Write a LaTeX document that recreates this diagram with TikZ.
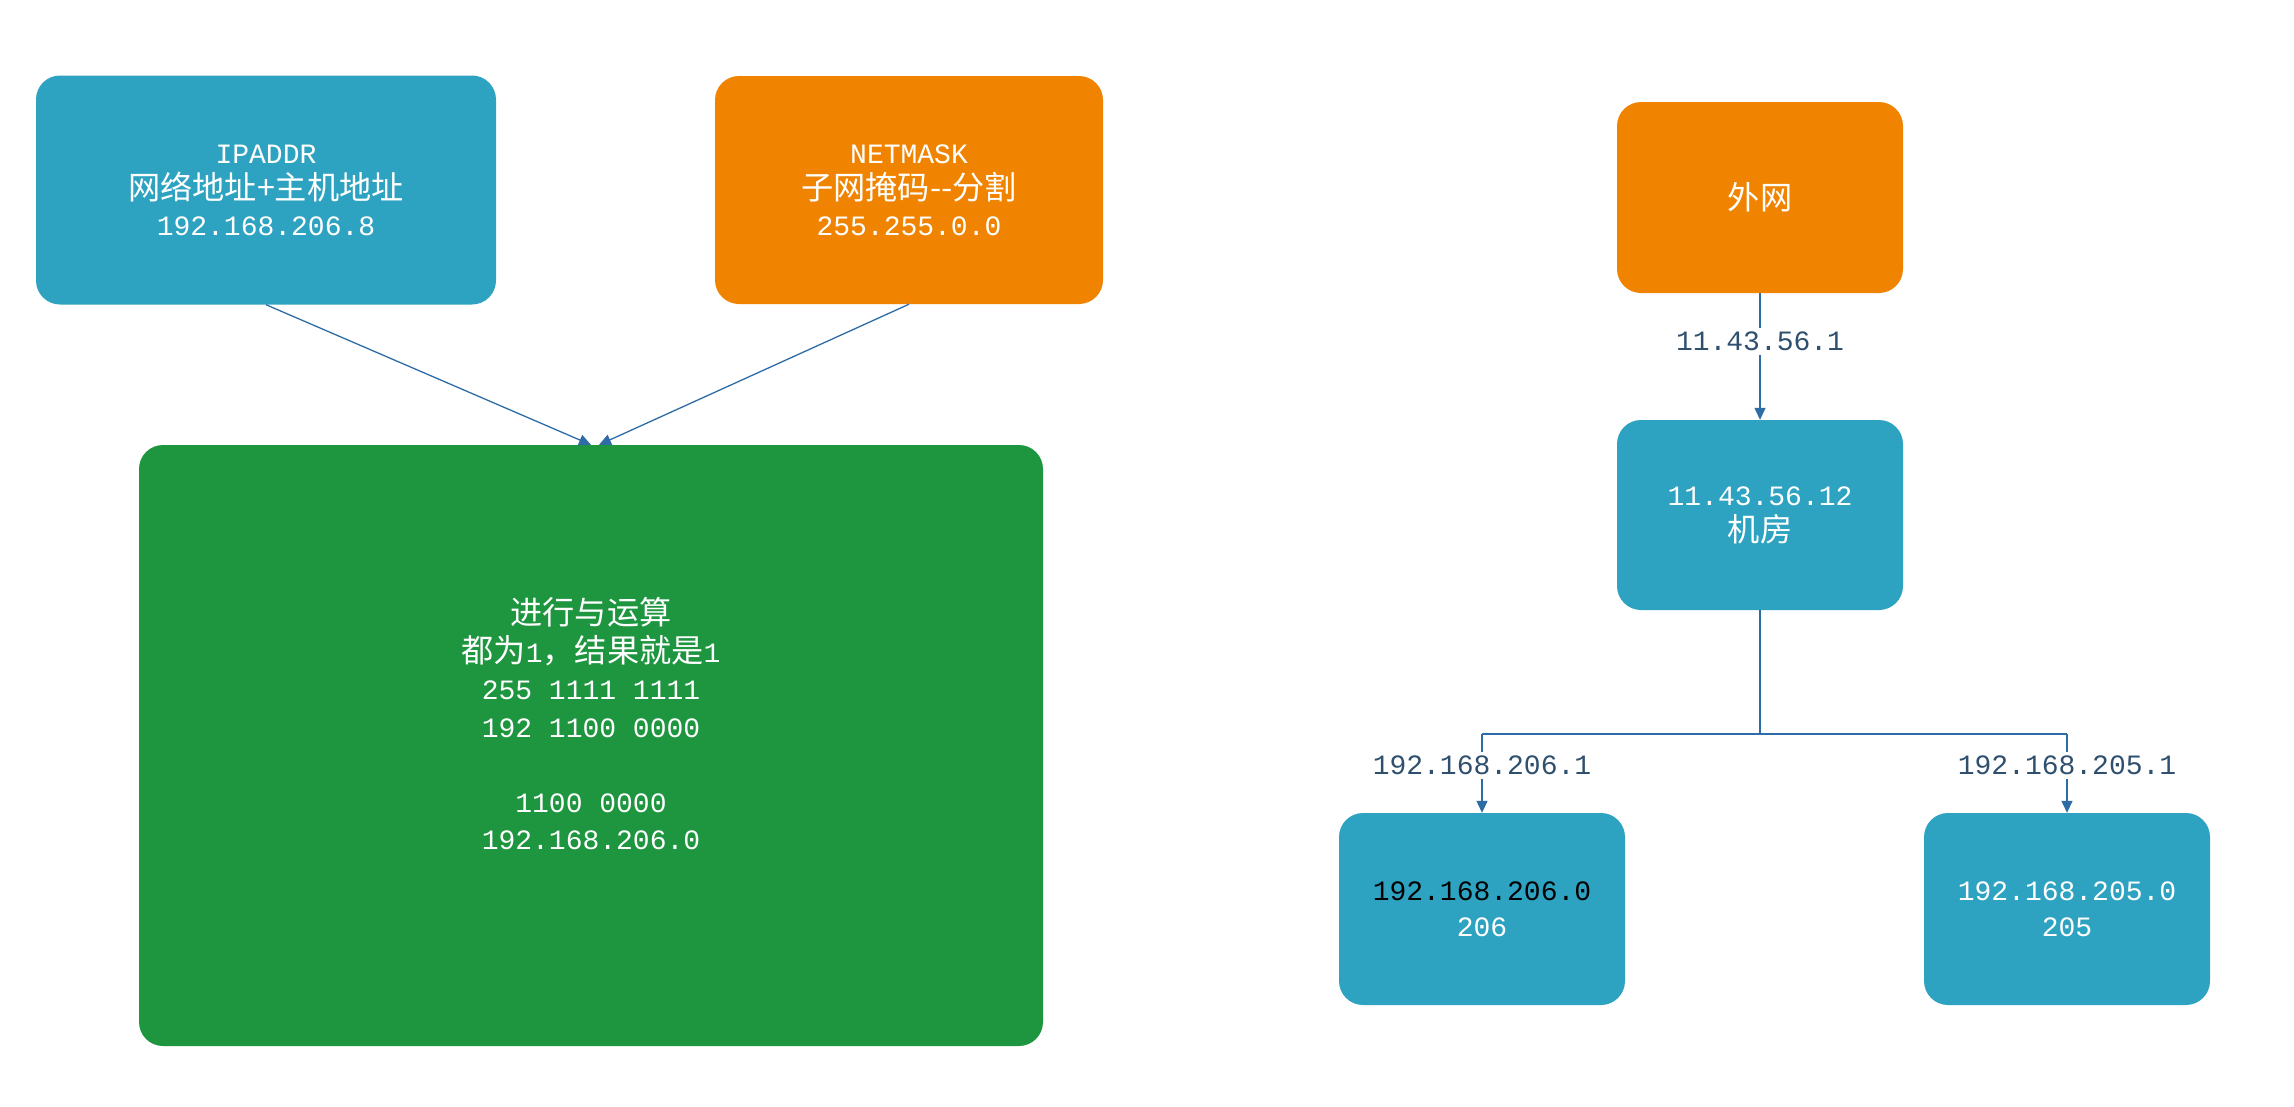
\documentclass[tikz,border=0pt]{standalone}
\usepackage{fontspec}
\setmainfont{Liberation Mono}
\newfontfamily\cjk[Scale=1.15]{Noto Sans CJK SC}
\usetikzlibrary{arrows.meta}
\definecolor{boxblue}{HTML}{2EA3C1}
\definecolor{boxorange}{HTML}{F08400}
\definecolor{boxgreen}{HTML}{1E953F}
\definecolor{linkblue}{HTML}{2E6CA6}
\definecolor{labeltext}{HTML}{2F4F6E}
\begin{document}
\begin{tikzpicture}[x=1pt,y=-1pt,
  box/.style={rounded corners=24pt, text=white, align=center, inner sep=0pt,
    font=\fontsize{28}{36}\selectfont},
  txt/.style={text=white, align=center, inner sep=0pt, font=\fontsize{28}{37.5}\selectfont},
  link/.style={draw=linkblue, line width=1.3pt, -{Triangle[length=12pt,width=11pt]}},
  plainlink/.style={draw=linkblue, line width=1.3pt},
  lab/.style={fill=white, text=labeltext, inner sep=4pt, font=\fontsize{28}{34}\selectfont}]
\useasboundingbox[fill=white] (0,0) rectangle (2294,1106);

% left part
\node[box, fill=boxblue, minimum width=460pt, minimum height=229pt] (ip) at (266,190)
  {IPADDR\\{\cjk 网络地址+主机地址}\\192.168.206.8};
\node[box, fill=boxorange, minimum width=388pt, minimum height=228pt] (nm) at (909,190)
  {NETMASK\\{\cjk 子网掩码--分割}\\255.255.0.0};
\node[box, fill=boxgreen, minimum width=904pt, minimum height=601pt] (gr) at (591,745.5) {};
\node[txt] (grt) at (591,724)
  {{\cjk 进行与运算}\\{\cjk 都为}1{\cjk ，结果就是}1\\255 1111 1111\\192 1100 0000\\[37.5pt]1100 0000\\192.168.206.0};

\draw[link] (ip.south) -- (gr.north);
\draw[link] (nm.south) -- ([xshift=8pt]gr.north);

% right part
\node[box, fill=boxorange, minimum width=286pt, minimum height=191pt] (ww) at (1760,197.5)
  {{\cjk 外网}};
\node[box, fill=boxblue, minimum width=286pt, minimum height=190pt] (jf) at (1760,515)
  {11.43.56.12\\{\cjk 机房}};
\node[box, fill=boxblue, minimum width=286pt, minimum height=192pt] (b206) at (1482,909)
  {\textcolor{black}{192.168.206.0}\\206};
\node[box, fill=boxblue, minimum width=286pt, minimum height=192pt] (b205) at (2067,909)
  {192.168.205.0\\205};

\draw[link] (ww.south) -- node[lab, pos=0.38] {11.43.56.1} (jf.north);

\coordinate (junc) at (1760,734);
\coordinate (j206) at (b206.north |- junc);
\coordinate (j205) at (b205.north |- junc);
\draw[plainlink] (jf.south) -- (junc);
\draw[plainlink] (j206) -- (j205);
\draw[link] (j206) -- node[lab, pos=0.4] {192.168.206.1} (b206.north);
\draw[link] (j205) -- node[lab, pos=0.4] {192.168.205.1} (b205.north);
\end{tikzpicture}
\end{document}
